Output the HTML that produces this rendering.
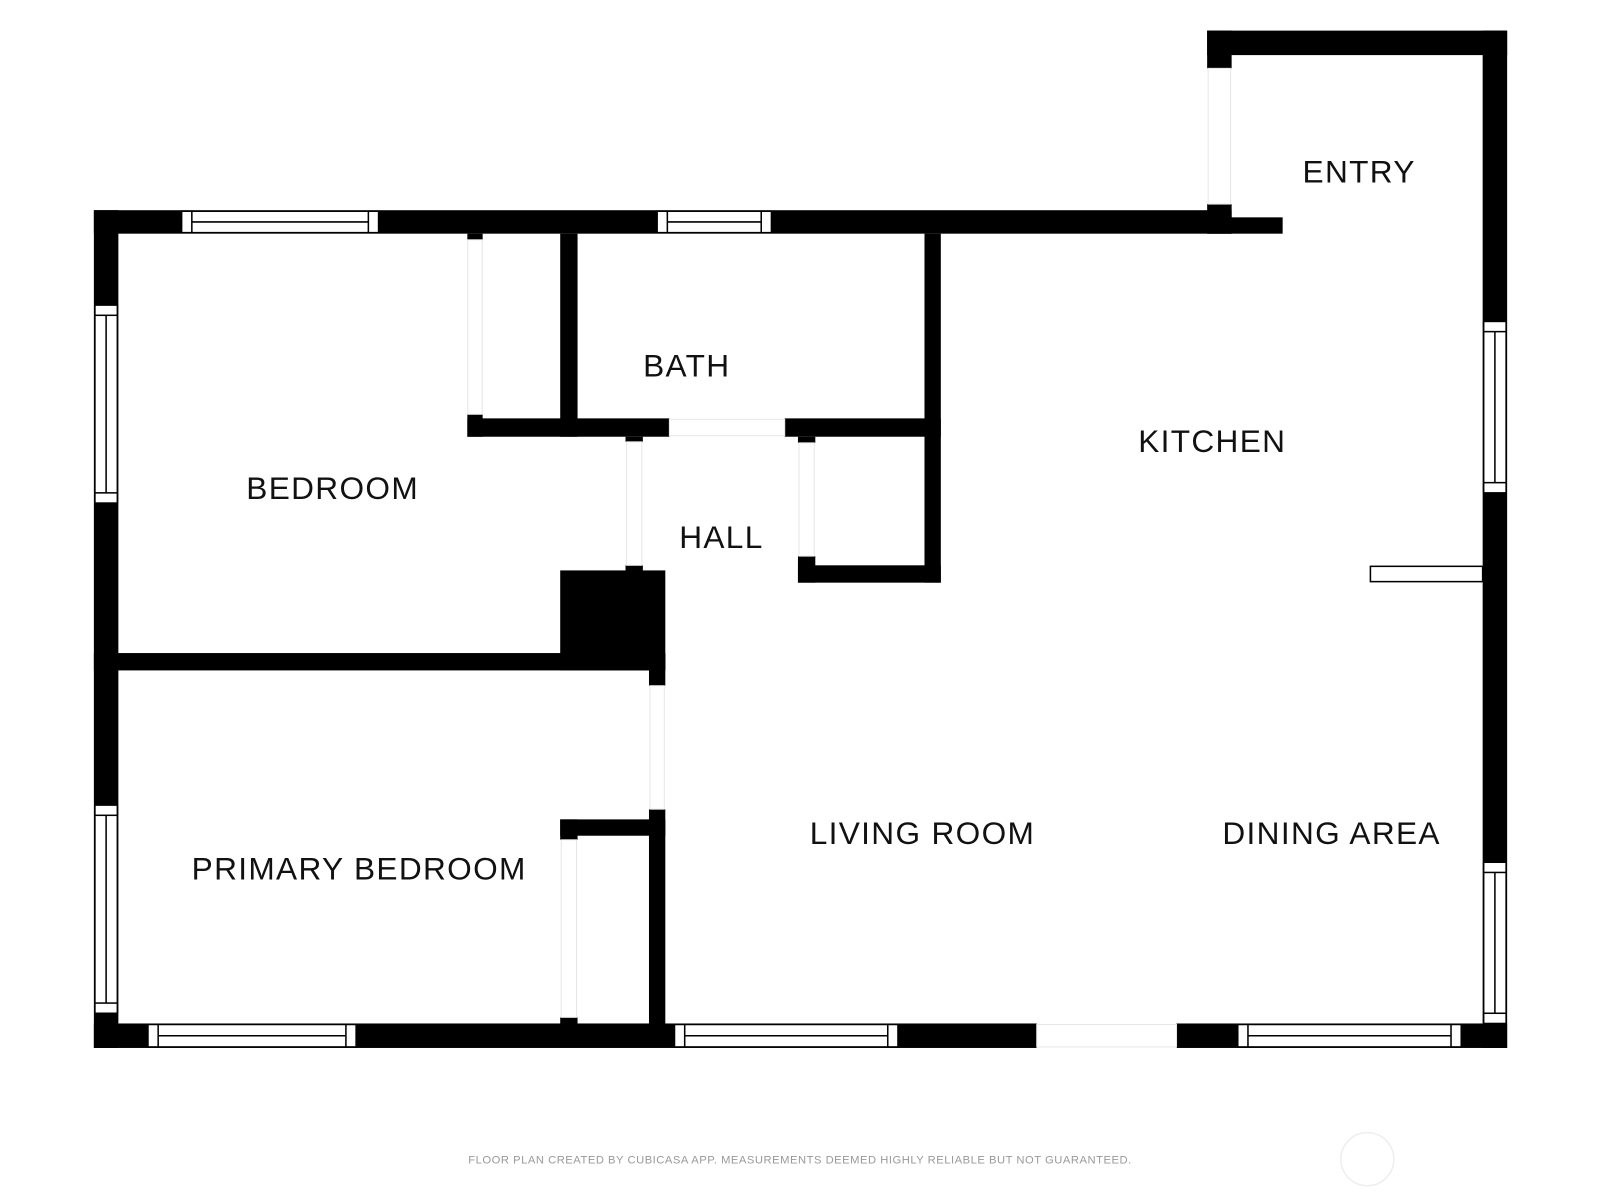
<!DOCTYPE html>
<html><head><meta charset="utf-8"><style>html,body{margin:0;padding:0;background:#fff}svg{display:block}</style></head>
<body>
<svg width="1600" height="1200" viewBox="0 0 1568 1176" xmlns="http://www.w3.org/2000/svg">
<rect width="1568" height="1176" fill="#fff"/>
<g fill="#000">
<rect x="92" y="206" width="24" height="821"/>
<rect x="92" y="206" width="1115" height="23"/>
<rect x="1183" y="200" width="24" height="29"/>
<rect x="1183" y="213" width="74" height="16"/>
<rect x="1183" y="30" width="294" height="24"/>
<rect x="1183" y="30" width="24" height="37"/>
<rect x="1453" y="30" width="24" height="997"/>
<rect x="92" y="1003" width="924" height="24"/>
<rect x="1153" y="1003" width="324" height="24"/>
<rect x="458" y="229" width="15" height="6"/>
<rect x="458" y="406" width="15" height="22"/>
<rect x="458" y="410" width="198" height="18"/>
<rect x="549" y="229" width="17" height="199"/>
<rect x="769" y="410" width="153" height="18"/>
<rect x="906" y="229" width="16" height="342"/>
<rect x="613" y="428" width="17" height="5"/>
<rect x="613" y="554" width="17" height="6"/>
<rect x="549" y="559" width="103" height="98"/>
<rect x="782" y="428" width="17" height="6"/>
<rect x="782" y="545" width="17" height="26"/>
<rect x="782" y="554" width="140" height="17"/>
<rect x="92" y="640" width="560" height="17"/>
<rect x="636" y="640" width="16" height="32"/>
<rect x="636" y="793" width="16" height="220"/>
<rect x="549" y="803" width="103" height="16"/>
<rect x="549" y="803" width="17" height="20"/>
<rect x="549" y="997" width="17" height="8"/>
</g>
<g fill="#fff" stroke="#e6e6e6" stroke-width="1">
<rect x="1184" y="67" width="22" height="133"/>
<rect x="458.5" y="235" width="14" height="171"/>
<rect x="656" y="411" width="113" height="16"/>
<rect x="614" y="433" width="15" height="121"/>
<rect x="783" y="434" width="15" height="111"/>
<rect x="637" y="672" width="14" height="121"/>
<rect x="550" y="823" width="15" height="174"/>
<rect x="1016" y="1004" width="137" height="22"/>
</g>
<g fill="#fff" stroke="#000" stroke-width="1.5">
<rect x="178" y="207" width="193" height="21"/><rect x="178" y="207" width="10" height="21"/><rect x="361" y="207" width="10" height="21"/><line x1="188" y1="217.5" x2="361" y2="217.5"/>
<rect x="644" y="207" width="112" height="21"/><rect x="644" y="207" width="10" height="21"/><rect x="746" y="207" width="10" height="21"/><line x1="654" y1="217.5" x2="746" y2="217.5"/>
<rect x="93" y="299" width="22" height="194"/><rect x="93" y="299" width="22" height="10"/><rect x="93" y="483" width="22" height="10"/><line x1="104" y1="309" x2="104" y2="483"/>
<rect x="93" y="789" width="22" height="204"/><rect x="93" y="789" width="22" height="10"/><rect x="93" y="983" width="22" height="10"/><line x1="104" y1="799" x2="104" y2="983"/>
<rect x="145" y="1004" width="204" height="22"/><rect x="145" y="1004" width="10" height="22"/><rect x="339" y="1004" width="10" height="22"/><line x1="155" y1="1015" x2="339" y2="1015"/>
<rect x="661" y="1004" width="219" height="22"/><rect x="661" y="1004" width="10" height="22"/><rect x="870" y="1004" width="10" height="22"/><line x1="671" y1="1015" x2="870" y2="1015"/>
<rect x="1213" y="1004" width="219" height="22"/><rect x="1213" y="1004" width="10" height="22"/><rect x="1422" y="1004" width="10" height="22"/><line x1="1223" y1="1015" x2="1422" y2="1015"/>
<rect x="1454" y="315" width="22" height="168"/><rect x="1454" y="315" width="22" height="10"/><rect x="1454" y="473" width="22" height="10"/><line x1="1465" y1="325" x2="1465" y2="473"/>
<rect x="1454" y="845" width="22" height="158"/><rect x="1454" y="845" width="22" height="10"/><rect x="1454" y="993" width="22" height="10"/><line x1="1465" y1="855" x2="1465" y2="993"/>
<rect x="1343" y="555" width="110" height="15"/>
</g>
<g font-family="Liberation Sans, sans-serif" font-size="31" fill="#111" text-anchor="middle" letter-spacing="1.3">
<text x="1332" y="179">ENTRY</text>
<text x="673" y="369">BATH</text>
<text x="1188" y="443">KITCHEN</text>
<text x="326" y="489">BEDROOM</text>
<text x="707" y="537">HALL</text>
<text x="904" y="827">LIVING ROOM</text>
<text x="1305" y="827">DINING AREA</text>
<text x="352" y="862">PRIMARY BEDROOM</text>
</g>
<text x="784" y="1140" font-family="Liberation Sans, sans-serif" font-size="11" fill="#999" text-anchor="middle" letter-spacing="0.5">FLOOR PLAN CREATED BY CUBICASA APP. MEASUREMENTS DEEMED HIGHLY RELIABLE BUT NOT GUARANTEED.</text>
<circle cx="1340" cy="1136" r="26" fill="none" stroke="#eee" stroke-width="1.5"/>
</svg>
</body></html>
